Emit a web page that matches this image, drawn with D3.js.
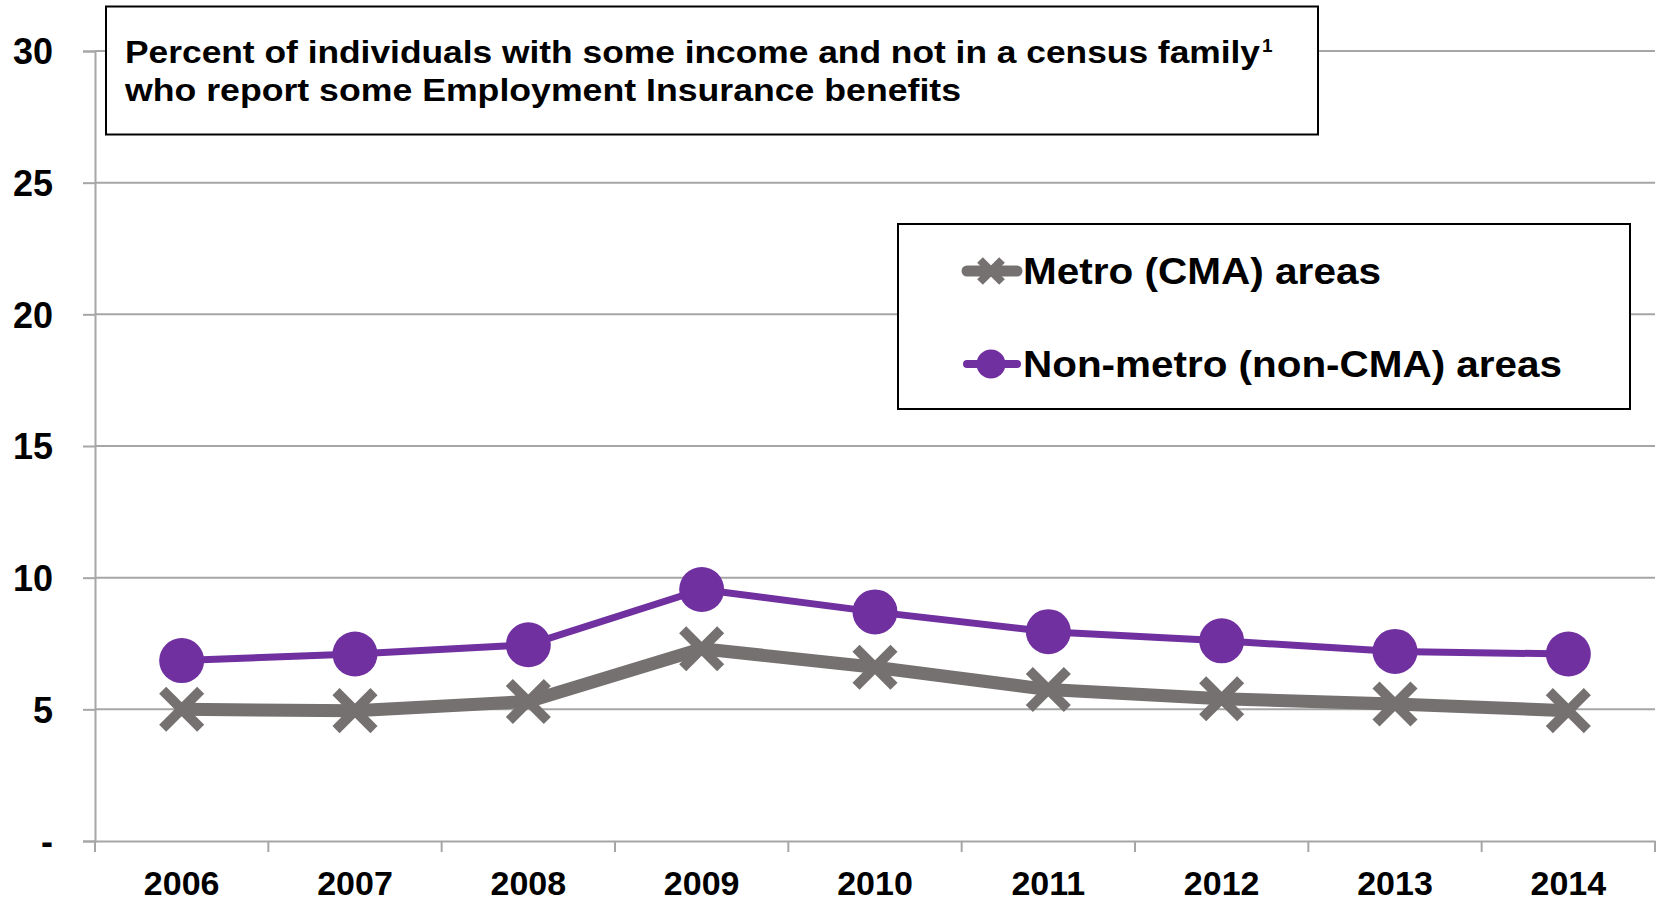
<!DOCTYPE html>
<html>
<head>
<meta charset="utf-8">
<script src="https://cdn.jsdelivr.net/npm/d3@7"></script>
<style>
  body { margin: 0; background: #fff; }
  text { font-family: "Liberation Sans", Arial, sans-serif; font-weight: bold; fill: #000; }
</style>
</head>
<body>
<div id="chart"></div>
<script>
document.addEventListener("DOMContentLoaded", function() {
	// chart values
	var years = ["2006", "2007", "2008", "2009", "2010", "2011", "2012", "2013", "2014"];
	var metro = [5.0, 4.95, 5.3, 7.3, 6.6, 5.75, 5.4, 5.2, 4.95];
	var nonMetro = [6.85, 7.1, 7.45, 9.55, 8.7, 7.95, 7.6, 7.2, 7.1];
	var yTicks = [0, 5, 10, 15, 20, 25, 30];
	var titleLines = ["Percent of individuals with some income and not in a census family", "who report some Employment Insurance benefits"];
	var legendLabels = ["Metro (CMA) areas", "Non-metro (non-CMA) areas"];

	var width = 1661, height = 901;
	var left = 95, right = 1655, top = 51, bottom = 841;

	var svg = d3.select("#chart").append("svg")
		.attr("width", width)
		.attr("height", height);

	var x = d3.scaleBand().domain(years).range([left, right]).padding(0);
	var y = d3.scaleLinear().domain([0, 30]).range([bottom, top]);

	var gridColor = "#a6a6a6";

	// gridlines
	svg.append("g").selectAll("line")
		.data(yTicks.filter(function(d) { return d > 0; }))
		.enter().append("line")
		.attr("x1", left).attr("x2", right)
		.attr("y1", function(d) { return y(d); })
		.attr("y2", function(d) { return y(d); })
		.attr("stroke", gridColor)
		.attr("stroke-width", 2);

	// y axis
	var yAxis = svg.append("g")
		.attr("transform", "translate(" + left + ",0)")
		.call(d3.axisLeft(y).tickValues(yTicks).tickSize(12).tickPadding(30)
			.tickFormat(function(d) { return d === 0 ? "-" : d; }));
	yAxis.select(".domain").attr("stroke", gridColor).attr("stroke-width", 2);
	yAxis.selectAll(".tick line").attr("stroke", gridColor).attr("stroke-width", 2);
	yAxis.selectAll(".tick text")
		.style("font-size", "36px")
		.attr("font-family", null)
		.attr("dy", "0.36em");

	// x axis, ticks at band boundaries
	var xAxis = svg.append("g")
		.attr("transform", "translate(0," + bottom + ")")
		.call(d3.axisBottom(x).tickSize(0));
	xAxis.select(".domain").attr("stroke", gridColor).attr("stroke-width", 2);
	xAxis.selectAll(".tick text")
		.style("font-size", "34px")
		.attr("y", 54)
		.attr("dy", 0);

	var bounds = years.map(function(d) { return x(d); }).concat([right]);
	xAxis.selectAll(".bound")
		.data(bounds)
		.enter().append("line")
		.attr("class", "bound")
		.attr("x1", function(d) { return d; }).attr("x2", function(d) { return d; })
		.attr("y1", 0).attr("y2", 11)
		.attr("stroke", gridColor)
		.attr("stroke-width", 2);

	var cx = function(d, i) { return x(years[i]) + x.bandwidth() / 2; };
	var line = d3.line()
		.x(function(d, i) { return cx(d, i); })
		.y(function(d) { return y(d); });

	var grey = "#767171", purple = "#7030a0";

	function drawX(g, px, py, half, sw) {
		g.append("path")
			.attr("d", "M" + (px - half) + "," + (py - half) + "L" + (px + half) + "," + (py + half) +
				"M" + (px - half) + "," + (py + half) + "L" + (px + half) + "," + (py - half))
			.attr("fill", "none")
			.attr("stroke", grey)
			.attr("stroke-width", sw);
	}

	// metro line with X markers
	svg.append("path")
		.datum(metro)
		.attr("d", line)
		.attr("fill", "none")
		.attr("stroke", grey)
		.attr("stroke-width", 13)
		.attr("stroke-linejoin", "round");

	var metroMarks = svg.append("g");
	metro.forEach(function(d, i) { drawX(metroMarks, cx(d, i), y(d), 19, 10); });

	// non-metro line with circles
	svg.append("path")
		.datum(nonMetro)
		.attr("d", line)
		.attr("fill", "none")
		.attr("stroke", purple)
		.attr("stroke-width", 7)
		.attr("stroke-linejoin", "round");

	svg.append("g").selectAll("circle")
		.data(nonMetro)
		.enter().append("circle")
		.attr("cx", cx)
		.attr("cy", function(d) { return y(d); })
		.attr("r", 22.5)
		.attr("fill", purple);

	// title box
	svg.append("rect")
		.attr("x", 106).attr("y", 6.5)
		.attr("width", 1212).attr("height", 128)
		.attr("fill", "#fff")
		.attr("stroke", "#000")
		.attr("stroke-width", 2);

	svg.append("text")
		.attr("x", 125).attr("y", 62.5)
		.style("font-size", "32px")
		.attr("textLength", 1135)
		.attr("lengthAdjust", "spacingAndGlyphs")
		.text(titleLines[0]);
	svg.append("text")
		.attr("x", 1262).attr("y", 51.5)
		.style("font-size", "19px")
		.text("1");
	svg.append("text")
		.attr("x", 125).attr("y", 100.5)
		.style("font-size", "32px")
		.attr("textLength", 836)
		.attr("lengthAdjust", "spacingAndGlyphs")
		.text(titleLines[1]);

	// legend
	svg.append("rect")
		.attr("x", 898).attr("y", 224)
		.attr("width", 732).attr("height", 185)
		.attr("fill", "#fff")
		.attr("stroke", "#000")
		.attr("stroke-width", 2);

	var legendWidths = [358, 539];
	var legend = svg.selectAll(".legend")
		.data(legendLabels)
		.enter().append("g")
		.attr("class", "legend")
		.attr("transform", function(d, i) { return "translate(991," + (271 + i * 93) + ")"; });

	legend.append("line")
		.attr("x1", -24).attr("x2", 26)
		.attr("y1", 0).attr("y2", 0)
		.attr("stroke", function(d, i) { return i === 0 ? grey : purple; })
		.attr("stroke-width", function(d, i) { return i === 0 ? 11 : 8; })
		.attr("stroke-linecap", "round");

	drawX(d3.select(legend.nodes()[0]), 0, 0, 11, 8);
	d3.select(legend.nodes()[1]).append("circle")
		.attr("r", 14.5).attr("fill", purple);

	legend.append("text")
		.attr("x", 32)
		.attr("y", 13)
		.style("font-size", "37px")
		.attr("textLength", function(d, i) { return legendWidths[i]; })
		.attr("lengthAdjust", "spacingAndGlyphs")
		.text(function(d) { return d; });
});
</script>
</body>
</html>
